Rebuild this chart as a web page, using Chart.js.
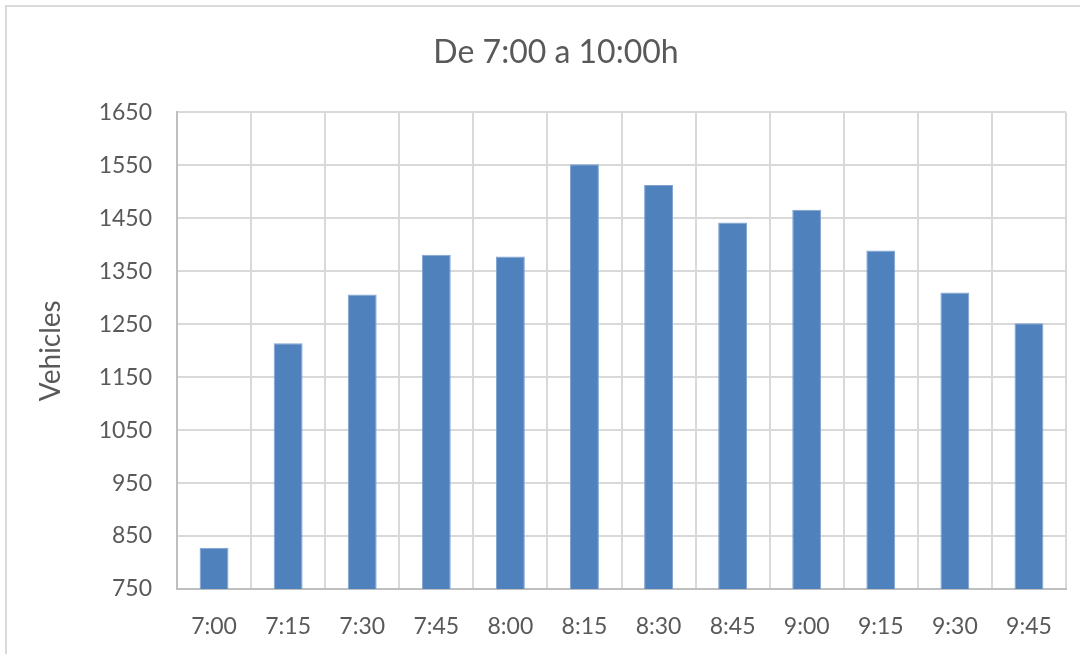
<!DOCTYPE html>
<html>
<head>
<meta charset="utf-8">
<script src="https://cdn.jsdelivr.net/npm/chart.js@4"></script>
<style>
    body { margin: 0; background: #ffffff; }
    #wrap { width: 1080px; height: 654px; position: relative; }
</style>
</head>
<body>
<div id="wrap"><canvas id="traffic-chart" width="1080" height="654"></canvas></div>
<script>
var labels = ["7:00", "7:15", "7:30", "7:45", "8:00", "8:15", "8:30", "8:45", "9:00", "9:15", "9:30", "9:45"]
var vehicles = [828, 1214, 1306, 1381, 1378, 1552, 1513, 1442, 1466, 1389, 1310, 1252]
var yTicks = [750, 850, 950, 1050, 1150, 1250, 1350, 1450, 1550, 1650]

var textColor = "#595959"

// light frame round the chart, like the excel chart area
var framePlugin = {
    id: 'frame',
    beforeDraw(chart) {
        const ctx = chart.ctx
        ctx.save()
        ctx.fillStyle = "#ffffff"
        ctx.fillRect(0, 0, chart.width, chart.height)
        ctx.strokeStyle = "#d9d9d9"
        ctx.lineWidth = 2
        ctx.strokeRect(6, 6, chart.width + 20, chart.height + 20)
        ctx.restore()
    }
}

var trafficChart;
function setupChart() {
    const ctx = document.getElementById('traffic-chart').getContext('2d');
    trafficChart = new Chart(ctx, {
        type: 'bar',
        plugins: [framePlugin],
        data: {
            labels: labels,
            datasets: [
                {
                    label: 'Vehicles',
                    data: vehicles,
                    backgroundColor: "#4F81BD",
                    borderColor: "#7FA3D1",
                    borderWidth: 1,
                    barPercentage: 0.39,
                    categoryPercentage: 1.0
                }
            ]
        },
        options: {
            responsive: false,
            animation: false,
            layout: {
                // left padding shifts the title centre to match excel
                padding: { left: 46, right: 14, top: 0, bottom: 0 }
            },
            plugins: {
                legend: { display: false },
                tooltip: { enabled: false },
                title: {
                    display: true,
                    text: "De 7:00 a 10:00h",
                    color: textColor,
                    font: { family: "Lato", size: 32, weight: 'normal' },
                    padding: { top: 33, bottom: 41 }
                }
            },
            scales: {
                x: {
                    grid: {
                        color: "#d9d9d9",
                        lineWidth: 2,
                        drawTicks: false,
                        offset: true
                    },
                    border: { color: "#bfbfbf", width: 2 },
                    ticks: {
                        color: textColor,
                        font: { family: "Lato", size: 23 },
                        padding: 24,
                        maxRotation: 0
                    },
                    afterFit: (scale) => { scale.height = 65 }
                },
                y: {
                    min: 750,
                    max: 1650,
                    afterBuildTicks: (scale) => {
                        scale.ticks = yTicks.map((v) => ({ value: v }))
                    },
                    grid: {
                        color: "#d9d9d9",
                        lineWidth: 2,
                        drawTicks: false
                    },
                    border: { color: "#bfbfbf", width: 2 },
                    ticks: {
                        color: textColor,
                        font: { family: "Lato", size: 23 },
                        padding: 25,
                        callback: (value) => String(value)
                    },
                    title: {
                        display: true,
                        text: "Vehicles",
                        color: textColor,
                        font: { family: "Lato", size: 28 },
                        padding: { top: -12, bottom: 0 }
                    },
                    afterFit: (scale) => { scale.width = 131 }
                }
            }
        }
    })
}

setupChart()
</script>
</body>
</html>
